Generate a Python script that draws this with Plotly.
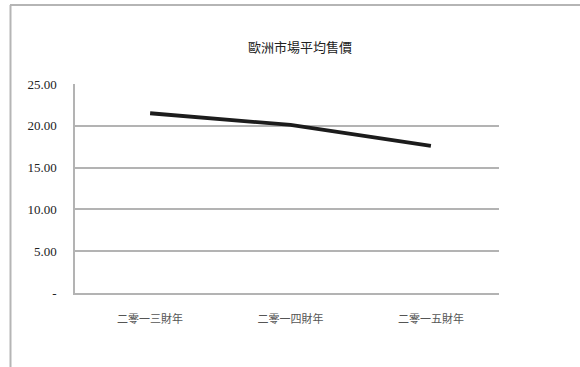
import plotly.graph_objects as go

# Average selling price in the European market, by fiscal year
categories = ["二零一三財年", "二零一四財年", "二零一五財年"]
avg_price = [21.5, 20.1, 17.6]

y_tick_values = [0, 5, 10, 15, 20, 25]
y_tick_labels = ["-", "5.00", "10.00", "15.00", "20.00", "25.00"]

W, H = 580, 367
L, R, T, B = 75, 81, 84, 74
pw, ph = W - L - R, H - T - B


def px_x(x):
    return (x - L) / pw


def px_y(y):
    return (H - B - y) / ph


grid = "#b3b3b3"

fig = go.Figure(
    go.Scatter(
        x=list(range(len(categories))),
        y=avg_price,
        mode="lines",
        line=dict(color="#1c1c1c", width=3.8),
        hoverinfo="skip",
    )
)

fig.update_layout(
    width=W,
    height=H,
    margin=dict(l=L, r=R, t=T, b=B),
    paper_bgcolor="white",
    plot_bgcolor="white",
    showlegend=False,
    title=dict(
        text="歐洲市場平均售價",
        x=300 / W,
        xanchor="center",
        y=1 - 47 / H,
        yanchor="middle",
        font=dict(family="Noto Sans CJK TC", size=13, color="#222222"),
    ),
    xaxis=dict(
        range=[-0.535, 2.485],
        tickvals=list(range(len(categories))),
        ticktext=categories,
        showgrid=False,
        zeroline=False,
        showline=True,
        linecolor=grid,
        linewidth=1.5,
        ticks="",
        ticklabelstandoff=15,
        tickfont=dict(family="Noto Sans CJK TC", size=11, color="#555555"),
    ),
    yaxis=dict(
        range=[0, 25],
        tickvals=y_tick_values,
        ticktext=y_tick_labels,
        showgrid=True,
        gridcolor=grid,
        gridwidth=1.5,
        zeroline=False,
        showline=True,
        linecolor=grid,
        linewidth=1.5,
        ticks="",
        ticklabelstandoff=14,
        tickfont=dict(family="Liberation Serif", size=13, color="#222222"),
    ),
    shapes=[
        # chart frame: top and left edges
        dict(type="line", xref="paper", yref="paper",
             x0=px_x(10), x1=px_x(W + 5), y0=px_y(5), y1=px_y(5),
             line=dict(color="#b5b5b5", width=2)),
        dict(type="line", xref="paper", yref="paper",
             x0=px_x(10.5), x1=px_x(10.5), y0=px_y(5), y1=px_y(H + 5),
             line=dict(color="#b5b5b5", width=2)),
    ],
)

fig.write_html("out.html")
